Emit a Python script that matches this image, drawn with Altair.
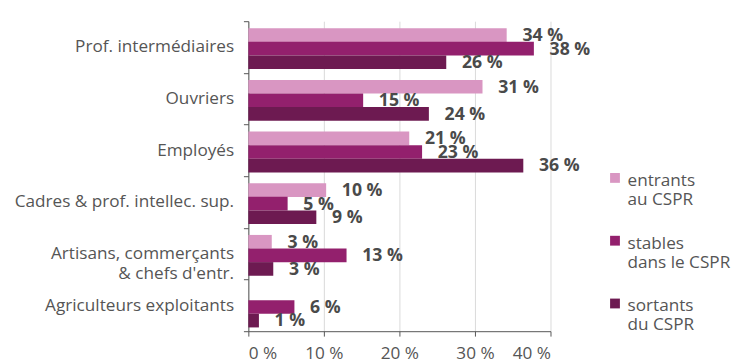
import altair as alt
import pandas as pd

categories = [
    "Prof. intermédiaires",
    "Ouvriers",
    "Employés",
    "Cadres & prof. intellec. sup.",
    "Artisans, commerçants|& chefs d'entr.",
    "Agriculteurs exploitants",
]
series = ["entrants|au CSPR", "stables|dans le CSPR", "sortants|du CSPR"]
entrants = [34.2, 31.0, 21.3, 10.3, 3.1, 0.0]
stables = [37.8, 15.2, 23.0, 5.2, 13.0, 6.1]
sortants = [26.2, 23.9, 36.4, 9.0, 3.3, 1.4]
colors = ["#d996c2", "#93206d", "#6d1a51"]

rows = []
for s, vals in zip(series, [entrants, stables, sortants]):
    for c, v in zip(categories, vals):
        rows.append({"cat": c, "series": s, "value": v, "label": f"{round(v)} %"})
df = pd.DataFrame(rows)

FONT = "Open Sans"
GRAY = "#555555"
FS = 17.5

y_enc = alt.Y(
    "cat:N",
    sort=categories,
    scale=alt.Scale(paddingInner=0, paddingOuter=0),
    axis=alt.Axis(
        title=None,
        labelExpr="split(datum.label, '|')",
        tickBand="extent",
        grid=False,
        domainColor=GRAY,
        tickColor=GRAY,
        tickSize=5,
        labelPadding=10,
        labelFont=FONT,
        labelFontSize=FS,
        labelColor=GRAY,
        labelLimit=400,
        labelLineHeight=20,
    ),
)
yoff = alt.YOffset(
    "series:N", sort=series, scale=alt.Scale(paddingInner=0, paddingOuter=0.4, align=0.65)
)
x_enc = alt.X(
    "value:Q",
    scale=alt.Scale(domain=[0, 40], nice=False),
    axis=alt.Axis(
        title=None,
        values=[0, 10, 20, 30, 40],
        labelExpr="datum.value + ' %'",
        grid=True,
        gridColor="#d9d9d9",
        domainColor=GRAY,
        tickColor=GRAY,
        tickSize=5,
        labelPadding=9,
        labelFont=FONT,
        labelFontSize=FS,
        labelColor=GRAY,
    ),
)

bars = alt.Chart(df).mark_bar(size=13.9).encode(
    x=x_enc,
    y=y_enc,
    yOffset=yoff,
    color=alt.Color(
        "series:N",
        sort=series,
        scale=alt.Scale(domain=series, range=colors),
        legend=alt.Legend(
            title=None,
            orient="none",
            legendX=365,
            legendY=145,
            labelExpr="split(datum.label, '|')",
            symbolType="M-1,0.2H1V2.2H-1Z",
            symbolSize=100,
            symbolStrokeWidth=0,
            labelFont=FONT,
            labelFontSize=FS,
            labelColor=GRAY,
            labelBaseline="top",
            rowPadding=18,
            labelOffset=4,
        ),
    ),
)

text = (
    alt.Chart(df)
    .transform_filter("datum.value > 0")
    .mark_text(align="left", baseline="middle", dx=16, dy=1, font=FONT, fontSize=18,
               fontWeight="bold", color="#4a4a4a")
    .encode(x="value:Q", y=alt.Y("cat:N", sort=categories), yOffset=alt.YOffset("series:N", sort=series), text="label:N")
)

chart = (
    alt.layer(bars, text)
    .properties(width=308, height=316, padding={"left": 6, "top": 1, "right": 0, "bottom": 0})
    .configure_view(stroke=None)
)

chart.save("out.html", embed_options={"renderer": "svg", "actions": False})
